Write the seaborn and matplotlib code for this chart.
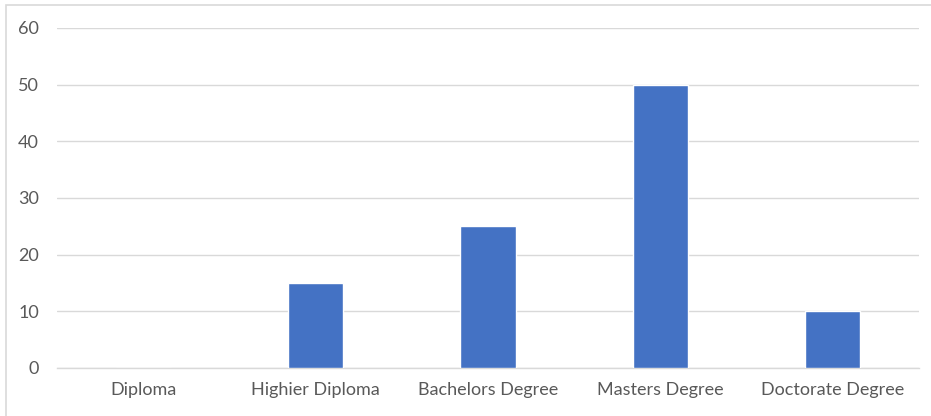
import matplotlib
matplotlib.use("Agg")
import matplotlib.pyplot as plt
from matplotlib.patches import Rectangle
import seaborn as sns
import pandas as pd

categories = ["Diploma", "Highier Diploma", "Bachelors Degree", "Masters Degree", "Doctorate Degree"]
values = [0, 15, 25, 50, 10]
y_ticks = [0, 10, 20, 30, 40, 50, 60]

df = pd.DataFrame({"category": categories, "value": values})

sns.set_theme(style="white")
plt.rcParams["font.family"] = ["Lato", "DejaVu Sans"]

fig = plt.figure(figsize=(9.31, 4.16), dpi=100)
ax = fig.add_axes([57 / 931, 48 / 416, 862 / 931, 340 / 416])

sns.barplot(data=df, x="category", y="value", color="#4472C4", width=0.32,
            saturation=1, ax=ax, zorder=3)

ax.set_ylim(0, 60)
ax.set_yticks(y_ticks)
ax.set_xlim(-0.5, len(categories) - 0.5)
ax.set_xlabel("")
ax.set_ylabel("")
ax.yaxis.grid(True, color="#d9d9d9", linewidth=1)
ax.set_axisbelow(True)
for side in ["top", "right", "left"]:
    ax.spines[side].set_visible(False)
ax.spines["bottom"].set_color("#d9d9d9")
ax.spines["bottom"].set_linewidth(1)
ax.tick_params(axis="both", length=0, colors="#595959", labelsize=13)
ax.tick_params(axis="y", pad=13)
ax.tick_params(axis="x", pad=10)

# chart frame
fig.patches.append(Rectangle((6 / 931, -0.1), 1.2, 1.1 - 5 / 416,
                             transform=fig.transFigure, fill=False,
                             edgecolor="#d9d9d9", linewidth=1.2))

fig.savefig("out.png", dpi=100, facecolor="white")
